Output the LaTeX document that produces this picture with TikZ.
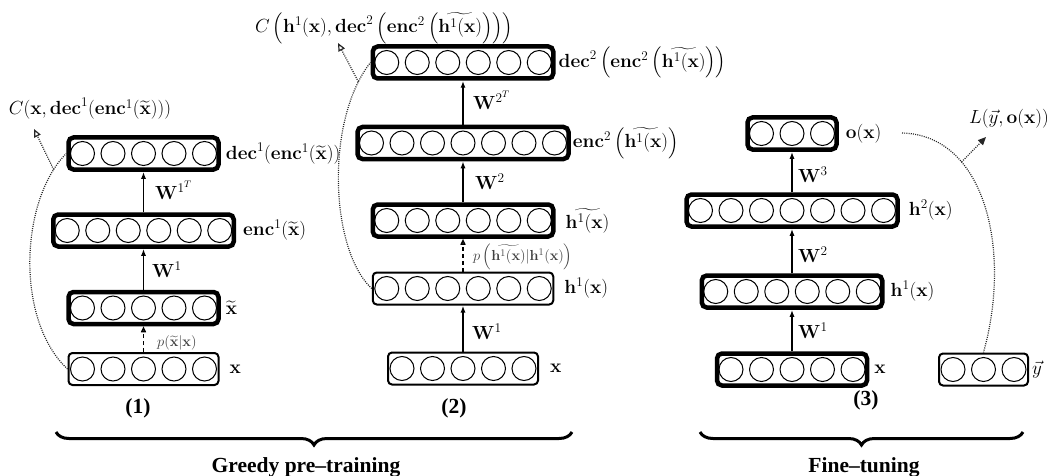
\documentclass[tikz,border=0pt]{standalone}
\usepackage{fix-cm}
\usepackage{amsmath}
\usepackage[no-math]{fontspec}
\newfontfamily\tnr{Liberation Serif}
\usetikzlibrary{arrows.meta,decorations.pathreplacing}

\tikzset{
  neuron/.style={circle, draw, line width=1, minimum size=24, inner sep=0},
  thickbox/.style={draw, line width=4.5, rounded corners=5, minimum height=32, inner sep=0},
  thinbox/.style={draw, line width=2, rounded corners=4, minimum height=32, inner sep=0},
  lab/.style={font=\fontsize{19}{22}\selectfont, inner sep=0, anchor=west},
  smalllab/.style={font=\fontsize{14.5}{17}\selectfont, text=black!75, inner sep=0, anchor=west},
  biglab/.style={font=\fontsize{21.5}{25}\selectfont\tnr\bfseries, inner sep=0},
  fwd/.style={-{Latex[length=7,width=5]}, line width=1.4},
  noise/.style={-{Triangle[open,length=6,width=5]}, line width=1.4, dash pattern=on 4pt off 3pt},
  cost/.style={line width=1.2, dash pattern=on 1pt off 1.2pt, black!85},
  costarr/.style={cost, -{Triangle[open,length=8,width=7]}},
  costarrf/.style={cost, -{Triangle[length=8,width=7]}},
  bracestyle/.style={decorate, decoration={brace, mirror, amplitude=13}, line width=3},
}

\newcommand{\nnlayer}[5]{%
  \node[#5, minimum width={(#4-1)*30.5+28}] (#1) at (#2,#3) {};
  \foreach \k in {1,...,#4}{
    \node[neuron] (#1-\k) at ({#2+(\k-(#4+1)/2)*30.5},#3) {};
  }
}

\begin{document}
\begin{tikzpicture}[x=1pt,y=-1pt]
\useasboundingbox (0,0) rectangle (1049,476);

% ---------- Panel 1 ----------
\nnlayer{ax}{143.5}{369}{5}{thinbox}
\nnlayer{axt}{143.5}{308}{5}{thickbox}
\nnlayer{aenc}{143.5}{230.5}{6}{thickbox}
\nnlayer{adec}{143.5}{153.5}{5}{thickbox}
\draw[noise] (ax.north) -- (axt.south);
\draw[fwd] (axt.north) -- (aenc.south);
\draw[fwd] (aenc.north) -- (adec.south);
\node[lab] (lax) at ([xshift=10]ax.east) {$\mathbf{x}$};
\node[lab] (laxt) at ([xshift=5]axt.east) {$\widetilde{\mathbf{x}}$};
\node[lab] (laenc) at ([xshift=7]aenc.east) {$\mathbf{enc}^1(\widetilde{\mathbf{x}})$};
\node[lab] (ladec) at ([xshift=5]adec.east) {$\mathbf{dec}^1(\mathbf{enc}^1(\widetilde{\mathbf{x}}))$};
\node[lab] (law1) at (152,270) {$\mathbf{W}^1$};
\node[lab] (law1t) at (155,190) {$\mathbf{W}^{1^T}$};
\node[smalllab] (lap) at (157,343) {$p(\widetilde{\mathbf{x}}|\mathbf{x})$};
\node[lab, anchor=center] (lac) at (90,109) {$C(\mathbf{x},\mathbf{dec}^1(\mathbf{enc}^1(\widetilde{\mathbf{x}})))$};
\draw[cost] (ax.west) .. controls (15,320) and (20,200) .. (adec.west) coordinate[pos=0.9] (am);
\coordinate (atip) at (34,129);
\draw[costarr] (am) -- (atip);

% ---------- Panel 2 ----------
\nnlayer{bx}{463}{368.5}{5}{thinbox}
\nnlayer{bh}{463}{288.5}{6}{thinbox}
\nnlayer{bht}{463}{220.5}{6}{thickbox}
\nnlayer{benc}{463}{143}{7}{thickbox}
\nnlayer{bdec}{463}{62.5}{6}{thickbox}
\draw[fwd] (bx.north) -- (bh.south);
\draw[noise] (bh.north) -- (bht.south);
\draw[fwd] (bht.north) -- (benc.south);
\draw[fwd] (benc.north) -- (bdec.south);
\node[lab] (lbx) at ([xshift=11]bx.east) {$\mathbf{x}$};
\node[lab] (lbh) at ([xshift=10]bh.east) {$\mathbf{h}^1(\mathbf{x})$};
\node[lab] (lbht) at ([xshift=10]bht.east) {$\widetilde{\mathbf{h}^1(\mathbf{x})}$};
\node[lab] (lbenc) at ([xshift=2]benc.east) {$\mathbf{enc}^2\left(\widetilde{\mathbf{h}^1(\mathbf{x})}\right)$};
\node[lab] (lbdec) at ([xshift=3]bdec.east) {$\mathbf{dec}^2\left(\mathbf{enc}^2\left(\widetilde{\mathbf{h}^1(\mathbf{x})}\right)\right)$};
\node[lab] (lbw1) at (472,332) {$\mathbf{W}^1$};
\node[lab] (lbw2) at (475,182) {$\mathbf{W}^2$};
\node[lab] (lbw2t) at (473,100) {$\mathbf{W}^{2^T}$};
\node[smalllab] (lbp) at (473,257) {$p\left(\widetilde{\mathbf{h}^1(\mathbf{x})}|\mathbf{h}^1(\mathbf{x})\right)$};
\node[lab, anchor=center] (lbc) at (384,28) {$C\left(\mathbf{h}^1(\mathbf{x}),\mathbf{dec}^2\left(\mathbf{enc}^2\left(\widetilde{\mathbf{h}^1(\mathbf{x})}\right)\right)\right)$};
\draw[cost] (bh.west) .. controls (330,250) and (325,120) .. (bdec.west) coordinate[pos=0.9] (bm);
\coordinate (btip) at (338,43);
\draw[costarr] (bm) -- (btip);

% ---------- Panel 3 ----------
\nnlayer{cx}{792}{369.5}{5}{thickbox}
\nnlayer{ch1}{792}{291.5}{6}{thickbox}
\nnlayer{ch2}{792}{210.5}{7}{thickbox}
\nnlayer{co}{792}{133.5}{3}{thickbox}
\nnlayer{cy}{983.5}{369.5}{3}{thinbox}
\draw[fwd] (cx.north) -- (ch1.south);
\draw[fwd] (ch1.north) -- (ch2.south);
\draw[fwd] (ch2.north) -- (co.south);
\node[lab] (lcx) at ([xshift=5]cx.east) {$\mathbf{x}$};
\node[lab] (lch1) at ([xshift=6]ch1.east) {$\mathbf{h}^1(\mathbf{x})$};
\node[lab] (lch2) at ([xshift=9]ch2.east) {$\mathbf{h}^2(\mathbf{x})$};
\node[lab] (lco) at ([xshift=7]co.east) {$\mathbf{o}(\mathbf{x})$};
\node[lab] (lcy) at ([xshift=3]cy.east) {$\vec{y}$};
\node[lab] (lcw1) at (798,331) {$\mathbf{W}^1$};
\node[lab] (lcw2) at (798,255) {$\mathbf{W}^2$};
\node[lab] (lcw3) at (798,175) {$\mathbf{W}^3$};
\node[lab, anchor=center] (lcl) at (1009,119) {$L(\vec{y},\mathbf{o}(\mathbf{x}))$};
\coordinate (cs) at (902,133);
\draw[cost] (cs) .. controls (985,135) and (1012,250) .. (cy.north) coordinate[pos=0.3] (cm);
\coordinate (ctip) at (986,137);
\draw[costarrf] (cm) -- (ctip);

% ---------- Bottom labels and braces ----------
\node[biglab] (n1) at (138,408) {(1)};
\node[biglab] (n2) at (454,408) {(2)};
\node[biglab] (n3) at (866,400) {(3)};
\coordinate (g1) at (56,432);
\coordinate (g2) at (572,432);
\draw[bracestyle] (g1) -- (g2);
\node[biglab] (gl) at (306,467) {Greedy pre–training};
\coordinate (f1) at (700,432);
\coordinate (f2) at (1023,432);
\draw[bracestyle] (f1) -- (f2);
\node[biglab] (fl) at (864,467) {Fine–tuning};
\end{tikzpicture}
\end{document}
